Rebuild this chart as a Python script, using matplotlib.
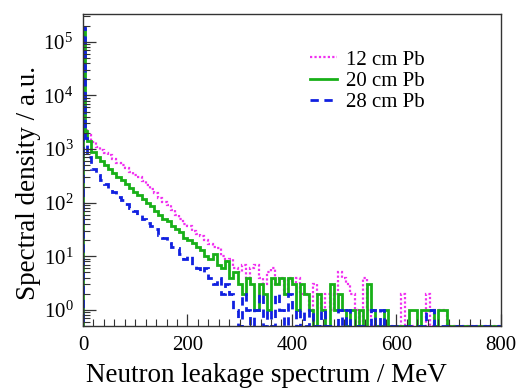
import numpy as np
import matplotlib.pyplot as plt
from matplotlib.ticker import LogLocator, MultipleLocator, NullFormatter

plt.rcParams['font.family'] = ['Liberation Serif', 'DejaVu Serif']
plt.rcParams['mathtext.fontset'] = 'custom'
plt.rcParams['mathtext.rm'] = 'Liberation Serif'

# bin edges in MeV: two narrow bins at the start, then 8 MeV bins
edges = np.concatenate([[0, 4], np.arange(8, 801, 8)])

# spectral density per bin (a.u.)
pb12 = [160000, 2400,
        1800, 1350, 1100, 950, 850, 760, 650, 560, 500, 440,
        380, 330, 300, 250, 215, 180, 150, 120, 105, 90,
        72, 60, 50, 40, 36, 30, 26, 24, 20, 17,
        15, 14, 10, 8, 9, 6, 5, 7, 4, 6,
        7, 4, 3, 5, 6, 3, 4, 2, 4, 3,
        4, 2, 2, 1, 3, 2, 1, 2, 1, 2,
        5, 4, 3, 2, 1, 0, 4, 1, 0, 0,
        0, 0, 0, 0, 0, 2, 0, 0, 0, 0,
        0, 2, 0, 1, 1, 1, 0, 0, 0, 0,
        0, 0, 0, 0, 0, 0, 0, 0, 0]
pb20 = [170000, 2200,
        1400, 900, 700, 600, 500, 430, 360, 300, 260, 220,
        185, 160, 140, 115, 100, 85, 70, 58, 50, 45,
        36, 32, 28, 22, 20, 18, 15, 13, 10, 9,
        11, 7, 6, 8, 4, 5, 3, 2, 4, 3,
        1, 3, 2, 1, 4, 3, 4, 2, 4, 3,
        1, 3, 2, 1, 0, 2, 1, 0, 3, 1,
        2, 1, 0, 1, 0, 1, 0, 3, 1, 0,
        0, 1, 0, 0, 0, 0, 0, 1, 1, 0,
        1, 1, 1, 0, 1, 1, 0, 0, 0, 0,
        0, 0, 0, 0, 0, 0, 0, 0, 0]
pb28 = [190000, 1600,
        700, 420, 330, 270, 220, 190, 160, 130, 110, 95,
        80, 70, 58, 50, 42, 36, 32, 25, 22, 18,
        15, 14, 11, 9, 10, 7, 6, 5, 6, 4,
        3, 4, 2, 3, 2, 1, 0, 2, 1, 0,
        1, 2, 0, 1, 0, 2, 1, 0, 2, 1,
        0, 1, 0, 1, 0, 0, 1, 0, 0, 0,
        1, 0, 1, 0, 0, 0, 0, 0, 1, 0,
        1, 0, 0, 0, 0, 0, 0, 0, 0, 0,
        0, 1, 1, 0, 0, 0, 0, 0, 0, 0,
        0, 0, 0, 0, 0, 0, 0, 0, 0]

labels = ['12 cm Pb', '20 cm Pb', '28 cm Pb']
ylo, yhi = 0.5, 3.3e5

fig = plt.figure(figsize=(5.19, 3.90), dpi=100)
ax = fig.add_axes([0.160, 0.164, 0.805, 0.800])

h1 = ax.stairs(np.clip(pb12, ylo, None), edges, color='#f030f0', lw=1.6,
               linestyle=(0, (1, 1)), label=labels[0])
h2 = ax.stairs(np.clip(pb20, ylo, None), edges, color='#18b018', lw=2.0,
               label=labels[1])
h3 = ax.stairs(np.clip(pb28, ylo, None), edges, color='#1020e0', lw=2.0,
               linestyle=(0, (3, 2)), label=labels[2])

ax.set_yscale('log')
ax.set_xlim(0, 800)
ax.set_ylim(ylo, yhi)

ax.xaxis.set_major_locator(MultipleLocator(200))
ax.xaxis.set_minor_locator(MultipleLocator(20))
ax.yaxis.set_major_locator(LogLocator(base=10, numticks=10))
ax.yaxis.set_minor_locator(LogLocator(base=10, subs=np.arange(2, 10), numticks=20))
ax.yaxis.set_minor_formatter(NullFormatter())
ax.tick_params(which='both', direction='in', top=False, right=False,
               labelsize=15, color='#333333', pad=7)
ax.tick_params(which='major', length=9, width=0.9)
ax.tick_params(which='minor', length=5, width=0.8)
for s in ax.spines.values():
    s.set_linewidth(1.0)
    s.set_color('#333333')

ax.set_xlabel('Neutron leakage spectrum / MeV', fontsize=19.5)
ax.xaxis.set_label_coords(0.44, -0.12)
ax.set_ylabel('Spectral density / a.u.', fontsize=19.5, va='center')
ax.yaxis.set_label_coords(-0.13, 0.46)

ax.legend(handles=[h1, h2, h3], frameon=False, fontsize=15,
          loc='upper left', bbox_to_anchor=(0.543, 0.885),
          borderaxespad=0, borderpad=0,
          handlelength=1.3, handletextpad=0.45, labelspacing=0.09)

fig.savefig('out.png', dpi=100)
